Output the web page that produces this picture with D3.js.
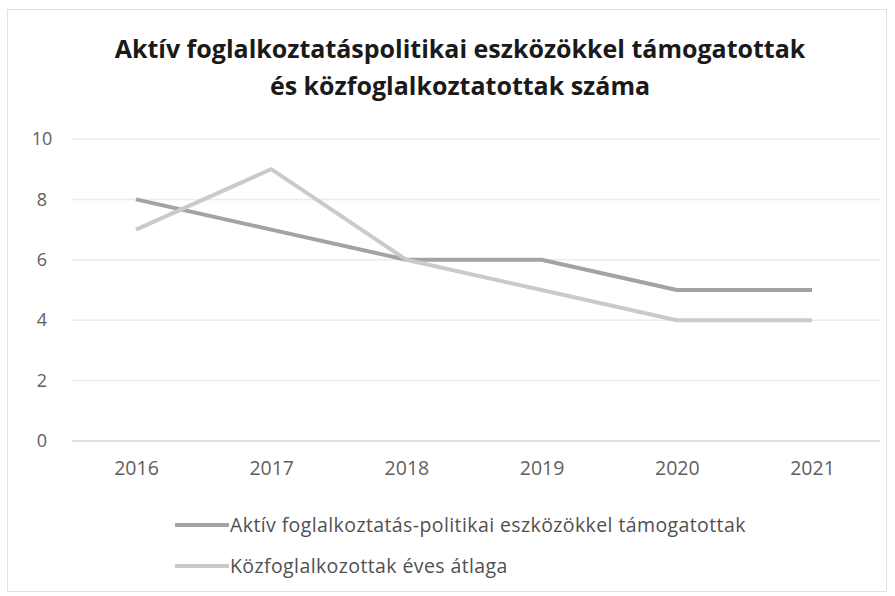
<!DOCTYPE html>
<html><head><meta charset="utf-8">
<script src="https://cdn.jsdelivr.net/npm/d3@7/dist/d3.min.js"></script>
<style>body{margin:0;background:#fff}svg{display:block}</style>
</head><body><svg id="c" width="895" height="596"></svg>
<script>
const years = ["2016","2017","2018","2019","2020","2021"];
const aktiv = [8,7,6,6,5,5];
const kozfog = [7,9,6,5,4,4];
const yTicks = [0,2,4,6,8,10];
const titleLines = ["Aktív foglalkoztatáspolitikai eszközökkel támogatottak","és közfoglalkoztatottak száma"];
const seriesNames = ["Aktív foglalkoztatás-politikai eszközökkel támogatottak","Közfoglalkozottak éves átlaga"];
const colors = ["#a3a3a3","#cacaca"];

const svg = d3.select("#c");
const font = "'Open Sans', sans-serif";
svg.append("rect").attr("x",7.5).attr("y",9.5).attr("width",879).attr("height",582)
  .attr("fill","#fff").attr("stroke","#e2e2e2");

const x = d3.scalePoint().domain(years).range([136,812]);
const y = d3.scaleLinear().domain([0,10]).range([441,139]);

svg.selectAll(".grid").data(yTicks).join("line")
  .attr("x1",72).attr("x2",880).attr("y1",d=>y(d)).attr("y2",d=>y(d))
  .attr("stroke",d=>d===0?"#d9d9d9":"#ececec").attr("stroke-width",1.5);

const yAxis = svg.append("g").attr("transform","translate(42,0)")
  .call(d3.axisLeft(y).tickValues(yTicks).tickSize(0).tickPadding(0));
yAxis.select(".domain").remove();
yAxis.selectAll("text").attr("font-family",font).attr("font-size",18).attr("fill","#606060").attr("text-anchor","middle");

const xAxis = svg.append("g").attr("transform","translate(0,441)")
  .call(d3.axisBottom(x).tickSize(0).tickPadding(20));
xAxis.select(".domain").remove();
xAxis.selectAll("text").attr("font-family",font).attr("font-size",19.5).attr("fill","#606060");

const line = d3.line().x((d,i)=>x(years[i])).y(d=>y(d));
[aktiv,kozfog].forEach((s,k)=>{
  svg.append("path").datum(s).attr("d",line).attr("fill","none")
    .attr("stroke",colors[k]).attr("stroke-width",4).attr("stroke-linejoin","round");
});

svg.selectAll(".title").data(titleLines).join("text")
  .attr("x",460).attr("y",(d,i)=>58+i*37).attr("text-anchor","middle")
  .attr("font-family",font).attr("font-weight","bold").attr("font-size",25).attr("fill","#1a1a1a")
  .text(d=>d);

const lg = svg.append("g");
seriesNames.forEach((n,i)=>{
  const yy = 525+i*41;
  lg.append("line").attr("x1",175).attr("x2",229).attr("y1",yy).attr("y2",yy)
    .attr("stroke",colors[i]).attr("stroke-width",4);
  lg.append("text").attr("x",230).attr("y",yy+7).attr("font-family",font).attr("font-size",19.5)
    .attr("letter-spacing",0.4).attr("fill","#505050").text(n);
});
</script></body></html>
